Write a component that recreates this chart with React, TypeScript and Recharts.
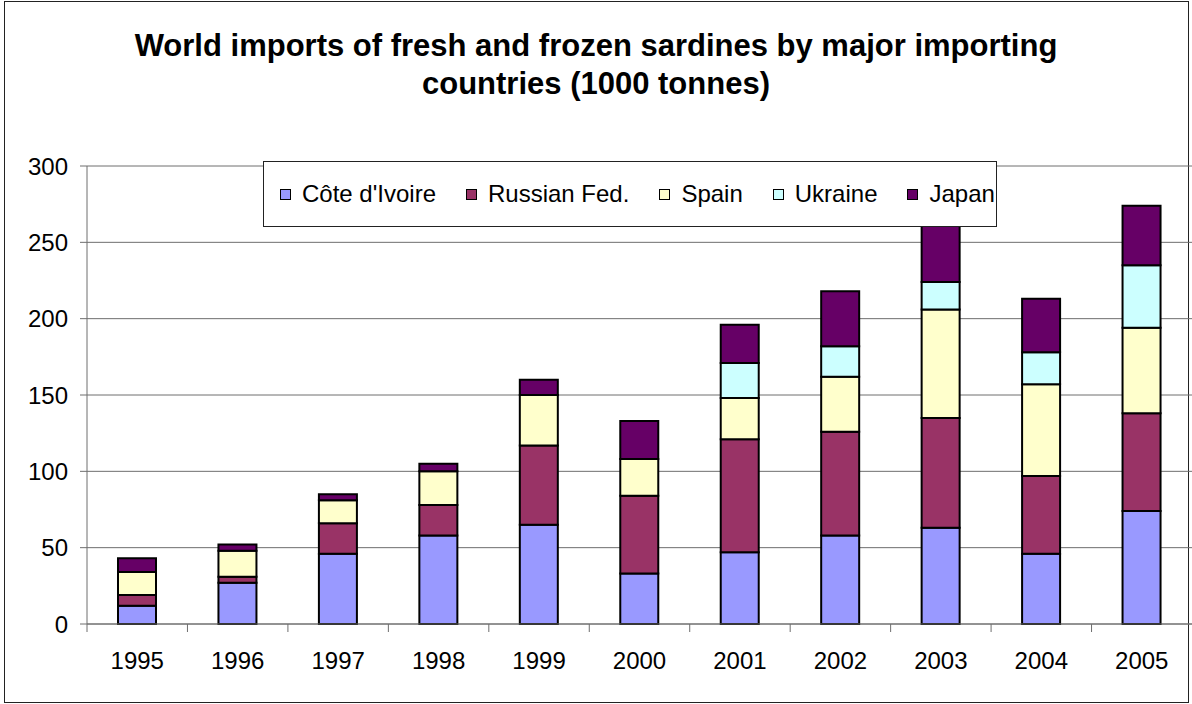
import { BarChart, Bar, XAxis, YAxis, CartesianGrid, Legend } from 'recharts';

const years = ['1995', '1996', '1997', '1998', '1999', '2000', '2001', '2002', '2003', '2004', '2005'];
const coteDIvoire = [12, 27, 46, 58, 65, 33, 47, 58, 63, 46, 74];
const russianFed = [7, 4, 20, 20, 52, 51, 74, 68, 72, 51, 64];
const spain = [15, 17, 15, 22, 33, 24, 27, 36, 71, 60, 56];
const ukraine = [0, 0, 0, 0, 0, 0, 23, 20, 18, 21, 41];
const japan = [9, 4, 4, 5, 10, 25, 25, 36, 42, 35, 39];
const yTicks = [0, 50, 100, 150, 200, 250, 300];

const series = [
  { key: 'cote', name: "Côte d'Ivoire", values: coteDIvoire, color: '#9999FF' },
  { key: 'russia', name: 'Russian Fed.', values: russianFed, color: '#993366' },
  { key: 'spain', name: 'Spain', values: spain, color: '#FFFFCC' },
  { key: 'ukraine', name: 'Ukraine', values: ukraine, color: '#CCFFFF' },
  { key: 'japan', name: 'Japan', values: japan, color: '#660066' },
];

const data = years.map((year, i) => {
  const row: Record<string, string | number> = { year };
  series.forEach((s) => { row[s.key] = s.values[i]; });
  return row;
});

const FONT = '"Liberation Sans", Arial, sans-serif';
const GRID = '#6e6e6e';

// Excel puts the category ticks between the bars, not under them
function YearTick(props: any) {
  const { x, y, payload } = props;
  const half = payload?.offset ?? 50;
  return (
    <g>
      <line x1={x - half} x2={x - half} y1={y} y2={y + 8} stroke={GRID} />
      <text x={x} y={y + 28} dy="0.71em" textAnchor="middle" fill="#000" fontSize={24} fontFamily={FONT}>
        {payload.value}
      </text>
    </g>
  );
}

// keep the series order (the default legend sorts by name)
function LegendBox({ payload }: any) {
  const items = [...(payload || [])].sort(
    (a: any, b: any) => series.findIndex((s) => s.key === a.dataKey) - series.findIndex((s) => s.key === b.dataKey),
  );
  return (
    <div style={{ display: 'flex', alignItems: 'center', height: '100%', paddingLeft: 16, boxSizing: 'border-box', whiteSpace: 'nowrap' }}>
      {items.map((e: any) => (
        <span key={e.value} style={{ display: 'flex', alignItems: 'center', marginRight: 30, flex: 'none' }}>
          <span style={{ width: 9, height: 9, border: '1px solid #000', background: e.color, marginRight: 11 }} />
          <span>{e.value}</span>
        </span>
      ))}
    </div>
  );
}

export default function App() {
  return (
    <div style={{ position: 'absolute', left: 0, top: 0, width: 1192, height: 704, background: '#fff', fontFamily: FONT }}>
      <div style={{ position: 'absolute', left: 4, top: 1, width: 1185, height: 702, border: '1px solid #222', boxSizing: 'border-box' }} />
      <div style={{ position: 'absolute', left: 0, top: 27, width: 1192, textAlign: 'center', fontWeight: 'bold', fontSize: 31, lineHeight: '38px', color: '#000' }}>
        World imports of fresh and frozen sardines by major importing
        <br />
        countries (1000 tonnes)
      </div>
      <BarChart width={1192} height={704} data={data} margin={{ top: 166, right: 0, bottom: 0, left: 0 }} barSize={38}>
        <CartesianGrid vertical={false} stroke={GRID} />
        <XAxis dataKey="year" height={80} tickLine={false} tickSize={0} tickMargin={0} stroke={GRID} tick={<YearTick />} interval={0} />
        <YAxis
          width={87}
          domain={[0, 300]}
          ticks={yTicks}
          tickSize={7}
          tickMargin={12}
          stroke={GRID}
          tick={{ fill: '#000', fontSize: 24, fontFamily: FONT }}
          interval={0}
        />
        <Legend
          layout="horizontal"
          verticalAlign="middle"
          align="center"
          content={<LegendBox />}
          wrapperStyle={{
            left: 263, top: 161, width: 734, height: 66, background: '#fff', border: '1px solid #222',
            boxSizing: 'border-box', fontSize: 24, fontFamily: FONT, color: '#000',
          }}
        />
        {series.map((s) => (
          <Bar key={s.key} dataKey={s.key} name={s.name} stackId="a" fill={s.color} stroke="#000" strokeWidth={2} isAnimationActive={false} />
        ))}
      </BarChart>
    </div>
  );
}
